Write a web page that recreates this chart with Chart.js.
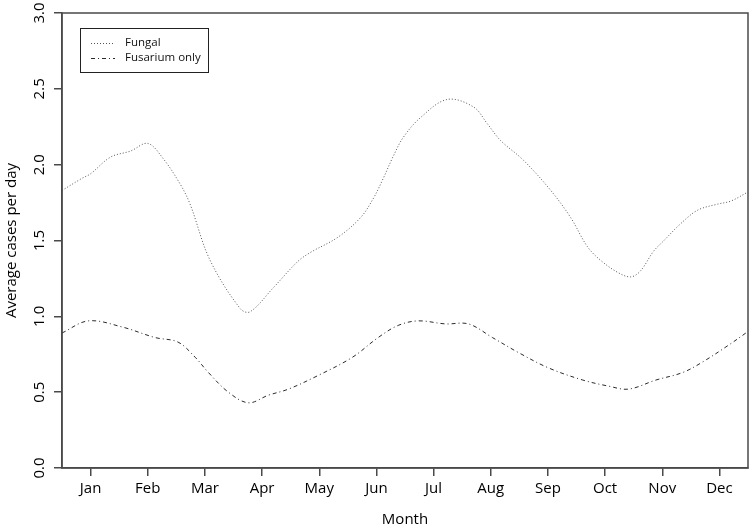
<!DOCTYPE html>
<html>
<head>
<meta charset="utf-8">
<script src="https://cdn.jsdelivr.net/npm/chart.js@4.4.1/dist/chart.umd.min.js"></script>
<style>
  html, body { margin: 0; padding: 0; background: #ffffff; }
  canvas { display: block; }
</style>
</head>
<body>
<canvas id="c" width="750" height="527"></canvas>
<script>
// ---- Data (month axis runs 0..12, month labels centred at i + 0.5) ----
const months = ['Jan','Feb','Mar','Apr','May','Jun','Jul','Aug','Sep','Oct','Nov','Dec'];
const yTicks = [0.0, 0.5, 1.0, 1.5, 2.0, 2.5, 3.0];

const fungalX = [0.00,0.35,0.50,0.85,1.20,1.50,1.77,2.07,2.24,2.59,3.12,3.29,3.70,4.12,4.34,4.82,5.22,5.45,5.62,5.80,5.97,6.27,6.74,7.20,7.44,7.67,8.07,8.55,8.90,9.19,9.42,9.72,9.95,10.12,10.35,10.53,10.82,11.12,11.47,11.70,12.00];
const fungalY = [1.83,1.91,1.94,2.05,2.09,2.14,2.04,1.87,1.74,1.37,1.05,1.03,1.19,1.36,1.42,1.52,1.65,1.78,1.91,2.06,2.18,2.31,2.43,2.38,2.27,2.16,2.03,1.83,1.65,1.46,1.37,1.29,1.26,1.30,1.43,1.50,1.61,1.70,1.74,1.76,1.82];

const fusariumX = [0.00,0.46,1.05,1.63,2.03,2.33,2.56,2.91,3.26,3.61,3.96,4.48,5.08,5.53,5.88,6.23,6.71,7.11,7.53,7.99,8.51,9.11,9.56,9.91,10.39,10.86,11.21,11.66,12.00];
const fusariumY = [0.89,0.97,0.93,0.86,0.83,0.73,0.63,0.50,0.43,0.48,0.52,0.61,0.73,0.86,0.94,0.97,0.95,0.95,0.86,0.76,0.66,0.58,0.54,0.52,0.58,0.63,0.70,0.81,0.90];

const seriesNames = ['Fungal', 'Fusarium only'];

const toPoints = (xs, ys) => xs.map((x, i) => ({ x: x, y: ys[i] }));

const FONT = '"Open Sans", "Noto Sans", sans-serif';
const AXIS_COLOR = '#4a4a4a';

// Plot frame (box) + legend drawn from datasets
const boxAndLegend = {
  id: 'boxAndLegend',
  afterDraw(chart) {
    const ctx = chart.ctx;
    const a = chart.chartArea;
    ctx.save();
    ctx.strokeStyle = AXIS_COLOR;
    ctx.lineWidth = 1.5;
    ctx.strokeRect(a.left, a.top, a.right - a.left, a.bottom - a.top);

    // legend
    const lx = a.left + 18, ly = a.top + 15, lw = 128, lh = 44;
    ctx.lineWidth = 1;
    ctx.strokeStyle = '#222';
    ctx.strokeRect(lx + 0.5, ly + 0.5, lw, lh);
    ctx.font = '11.5px ' + FONT;
    ctx.textBaseline = 'middle';
    ctx.fillStyle = '#111';
    chart.data.datasets.forEach((ds, i) => {
      const y = ly + 15 + i * 15;
      ctx.save();
      ctx.strokeStyle = ds.borderColor;
      ctx.lineWidth = ds.borderWidth;
      ctx.setLineDash(ds.borderDash);
      ctx.beginPath();
      ctx.moveTo(lx + 11, y + 0.5);
      ctx.lineTo(lx + 35, y + 0.5);
      ctx.stroke();
      ctx.restore();
      ctx.fillText(ds.label, lx + 45, y);
    });
    ctx.restore();
  }
};

new Chart(document.getElementById('c'), {
  type: 'line',
  data: {
    datasets: [
      {
        label: seriesNames[0],
        data: toPoints(fungalX, fungalY),
        borderColor: '#555555',
        borderWidth: 1,
        borderDash: [1, 2],
        pointRadius: 0,
        fill: false,
        tension: 0.35
      },
      {
        label: seriesNames[1],
        data: toPoints(fusariumX, fusariumY),
        borderColor: '#2a2a2a',
        borderWidth: 1,
        borderDash: [4, 3, 1, 3],
        pointRadius: 0,
        fill: false,
        tension: 0.35
      }
    ]
  },
  options: {
    responsive: false,
    animation: false,
    layout: { padding: { left: 0, right: 2, top: 12, bottom: 0 } },
    plugins: {
      legend: { display: false },
      tooltip: { enabled: false }
    },
    scales: {
      x: {
        type: 'linear',
        min: 0,
        max: 12,
        afterBuildTicks: (axis) => { axis.ticks = months.map((m, i) => ({ value: i + 0.5 })); },
        afterFit: (axis) => { axis.height = 59; },
        ticks: {
          callback: (v) => months[Math.round(v - 0.5)],
          color: '#000',
          font: { family: FONT, size: 15 },
          padding: 4,
          maxRotation: 0,
          minRotation: 0,
          autoSkip: false
        },
        grid: {
          drawOnChartArea: false,
          drawTicks: true,
          tickLength: 8,
          color: AXIS_COLOR,
          lineWidth: 1.5
        },
        border: { display: true, color: AXIS_COLOR, width: 1.5 },
        title: {
          display: true,
          text: 'Month',
          color: '#000',
          font: { family: FONT, size: 15, lineHeight: 1 },
          padding: { top: 0, bottom: 0 }
        }
      },
      y: {
        type: 'linear',
        min: 0,
        max: 3,
        afterBuildTicks: (axis) => { axis.ticks = yTicks.map(v => ({ value: v })); },
        afterFit: (axis) => { axis.width = 62; },
        ticks: {
          callback: (v) => v.toFixed(1),
          color: '#000',
          font: { family: FONT, size: 15 },
          padding: 4,
          minRotation: 90,
          maxRotation: 90,
          crossAlign: 'center'
        },
        grid: {
          drawOnChartArea: false,
          drawTicks: true,
          tickLength: 8,
          color: AXIS_COLOR,
          lineWidth: 1.5
        },
        border: { display: true, color: AXIS_COLOR, width: 1.5 },
        title: {
          display: true,
          text: 'Average cases per day',
          color: '#000',
          font: { family: FONT, size: 15, lineHeight: 1 },
          padding: { top: 4, bottom: 0 }
        }
      }
    }
  },
  plugins: [boxAndLegend]
});
</script>
</body>
</html>
